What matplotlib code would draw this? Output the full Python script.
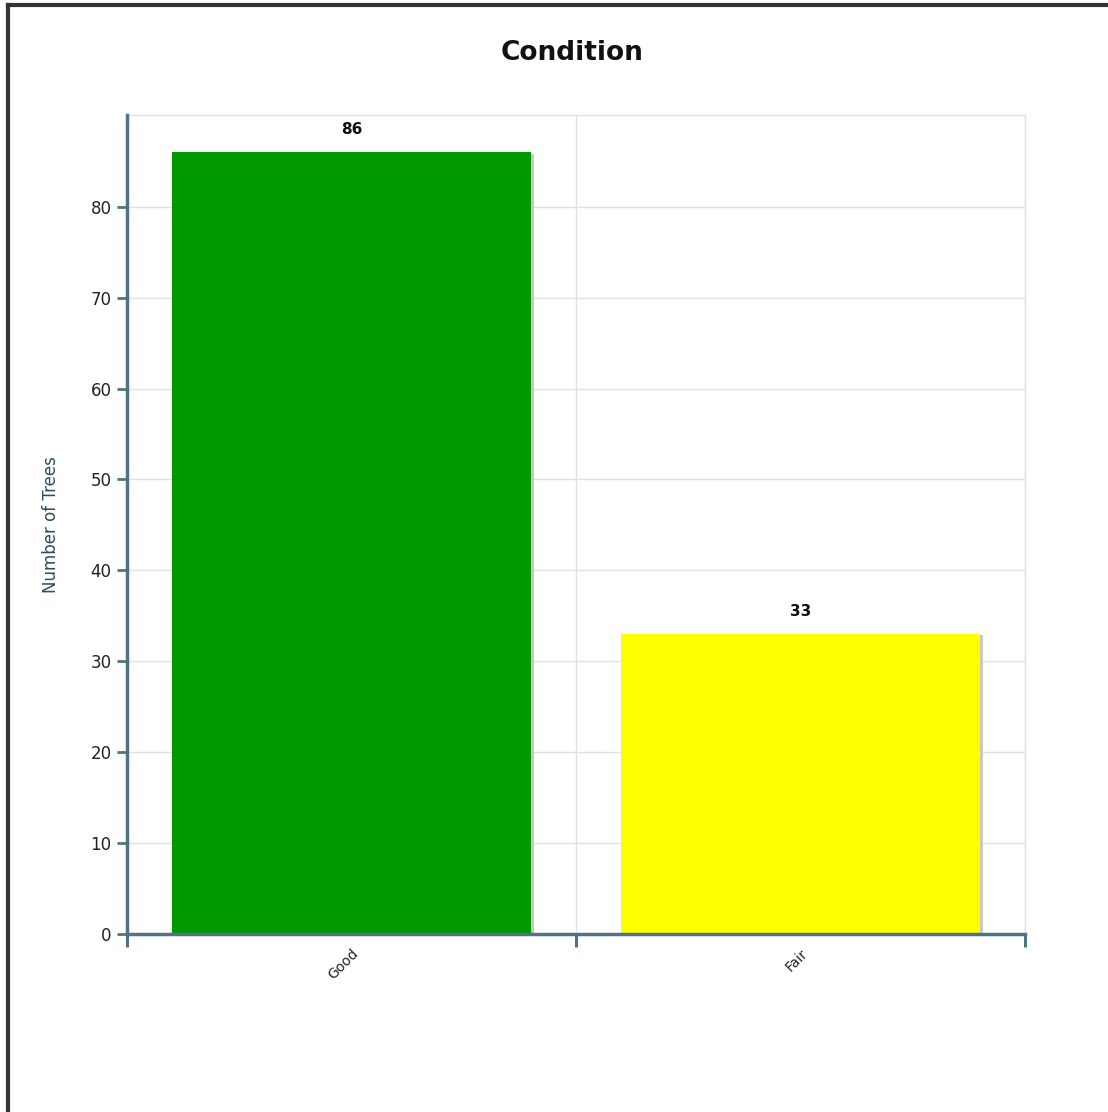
import matplotlib
matplotlib.use("Agg")
import matplotlib.pyplot as plt
import matplotlib.patheffects as pe
from matplotlib.lines import Line2D

categories = ["Good", "Fair"]
counts = [86, 33]
bar_colors = ["#009900", "#ffff00"]
y_ticks = [0, 10, 20, 30, 40, 50, 60, 70, 80]

axis_col = "#4f7384"
grid_col = "#dde2e7"

fig = plt.figure(figsize=(11.08, 11.12), dpi=100)
ax = fig.add_axes([0.1146, 0.1601, 0.8105, 0.7365])

x = list(range(len(categories)))
shadow = [pe.SimplePatchShadow(offset=(2, -1), shadow_rgbFace="#c8c8c8", alpha=1.0), pe.Normal()]
bars = ax.bar(x, counts, width=0.8, color=bar_colors, zorder=3)
for b in bars:
    b.set_path_effects(shadow)

for xi, v in zip(x, counts):
    ax.annotate(str(v), (xi, v), xytext=(0, 11), textcoords="offset points",
                ha="center", va="bottom", fontsize=11, fontweight="bold", color="#111111")

ax.set_xlim(-0.5, len(categories) - 0.5)
ax.set_ylim(0, 90.1)

# gridlines
ax.set_yticks(y_ticks)
ax.set_yticklabels([str(t) for t in y_ticks], fontsize=12, color="#222222")
ax.yaxis.grid(True, color=grid_col, linewidth=1, zorder=0)
for b in [i + 0.5 for i in x]:
    ax.axvline(b, color=grid_col, linewidth=1, zorder=0)

# x ticks at category boundaries, labels at centres
ax.set_xticks([i - 0.5 for i in x] + [len(categories) - 0.5])
ax.set_xticklabels([])
ax.set_xticks(x, minor=True)
ax.set_xticklabels(categories, minor=True, rotation=45, ha="right", va="top",
                   rotation_mode="anchor", fontsize=10, color="#222222")
ax.tick_params(axis="x", which="major", length=9, width=2.2, color=axis_col)
ax.tick_params(axis="x", which="minor", length=0, pad=9)
ax.tick_params(axis="y", length=7, width=2, color=axis_col, pad=4)

for s in ["left", "bottom"]:
    ax.spines[s].set_color(axis_col)
    ax.spines[s].set_linewidth(2.5)
    ax.spines[s].set_zorder(4)
for s in ["top", "right"]:
    ax.spines[s].set_color(grid_col)
    ax.spines[s].set_linewidth(1)

ax.set_ylabel("Number of Trees", fontsize=12, color="#2d4c5e", labelpad=22)
fig.text(0.5165, 0.952, "Condition", ha="center", va="center", fontsize=19, fontweight="bold", color="#111111")

# outer frame (only left and top visible)
fig.add_artist(Line2D([0.0068, 0.0068], [0, 0.9955], color="#333333", linewidth=3))
fig.add_artist(Line2D([0.0068, 1.0], [0.9955, 0.9955], color="#333333", linewidth=3))

fig.savefig("out.png", dpi=100, facecolor="white")
